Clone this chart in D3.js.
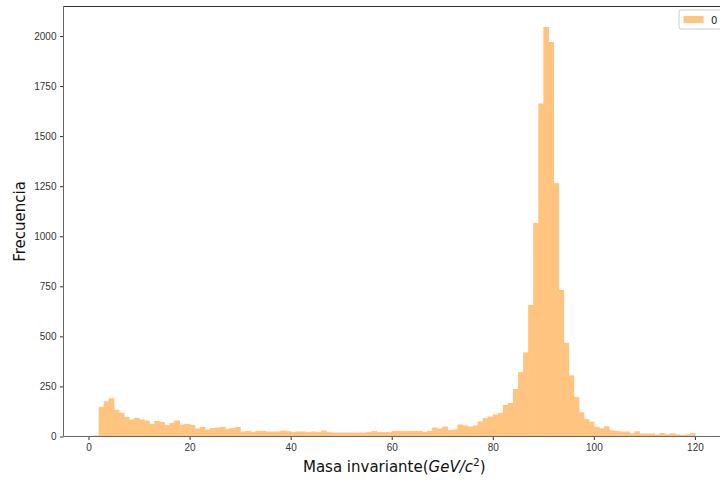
<!DOCTYPE html>
<html lang="en">
<head>
    <meta charset="UTF-8">
    <title></title>
    <style type="text/css">
        body { margin:0; background:#fff; }
        svg { display:block; font-family:'DejaVu Sans', sans-serif; }
        .tick text { font-size:10px; fill:#333; }
        .tick line { stroke:#333; }
    </style>
</head>
<body>
<script src="https://d3js.org/d3.v7.min.js"></script>
<script>
    // histogram counts, one per bin of width 1 starting at firstEdge
    var firstEdge = 1;
    var counts = [
        5, 148, 176, 191, 133, 118, 98, 85, 93, 85,
        80, 63, 78, 73, 58, 68, 80, 60, 63, 58,
        40, 48, 35, 42, 45, 48, 38, 43, 48, 25,
        28, 23, 28, 28, 25, 25, 25, 30, 27, 22,
        25, 25, 22, 25, 22, 30, 22, 20, 20, 20,
        20, 20, 20, 20, 22, 27, 22, 22, 22, 28,
        28, 28, 28, 28, 28, 23, 28, 45, 40, 50,
        32, 35, 60, 55, 50, 55, 75, 92, 100, 110,
        118, 158, 168, 237, 322, 420, 657, 1067, 1663, 2045,
        1970, 1265, 732, 468, 305, 197, 121, 87, 74, 49,
        41, 51, 31, 28, 25, 25, 16, 26, 15, 15,
        15, 10, 18, 11, 16, 11, 8, 11, 16
    ];
    var xTicks = [0, 20, 40, 60, 80, 100, 120];
    var yTicks = [0, 250, 500, 750, 1000, 1250, 1500, 1750, 2000];
    var legendLabels = ['0'];

    var width = 720,
        height = 481,
        pLeft = 63.5, pRight = 725, pTop = 6.5, pBottom = 436.5,
        svg = d3.select('body').append('svg')
                .attr('width', width)
                .attr('height', height);

    var bins = counts.map(function(c, i){
        return {x0: firstEdge + i, x1: firstEdge + i + 1, n: c};
    });

    var lo = bins[0].x0, hi = bins[bins.length - 1].x1,
        pad = (hi - lo) * 0.05;
    var xScale = d3.scaleLinear().domain([lo - pad, hi + pad]).range([pLeft, pRight]);
    var yScale = d3.scaleLinear().domain([0, d3.max(counts) * 1.05]).range([pBottom, pTop]);

    // bars slightly overlapped so no seams show between neighbours
    svg.append('g').selectAll('rect')
        .data(bins)
        .enter().append('rect')
        .attr('x', function(d){ return xScale(d.x0); })
        .attr('width', function(d){ return xScale(d.x1) - xScale(d.x0) + 0.6; })
        .attr('y', function(d){ return yScale(d.n); })
        .attr('height', function(d){ return yScale(0) - yScale(d.n); })
        .attr('fill', '#ffc47f');

    var xAxis = d3.axisBottom(xScale).tickValues(xTicks).tickFormat(d3.format('d'))
                  .tickSize(3.5).tickPadding(3.5);
    var yAxis = d3.axisLeft(yScale).tickValues(yTicks).tickFormat(d3.format('d'))
                  .tickSize(3.5).tickPadding(3.5);

    var gx = svg.append('g').attr('transform', 'translate(0,' + pBottom + ')').call(xAxis);
    var gy = svg.append('g').attr('transform', 'translate(' + pLeft + ',0)').call(yAxis);
    gx.select('.domain').remove();
    gy.select('.domain').remove();

    // spines
    svg.append('line').attr('x1', pLeft).attr('x2', pLeft).attr('y1', pTop).attr('y2', pBottom)
        .attr('stroke', '#666').attr('stroke-width', 1);
    svg.append('line').attr('x1', pLeft).attr('x2', pRight).attr('y1', pBottom).attr('y2', pBottom)
        .attr('stroke', '#666').attr('stroke-width', 1);
    svg.append('line').attr('x1', pLeft).attr('x2', pRight).attr('y1', pTop).attr('y2', pTop)
        .attr('stroke', '#333').attr('stroke-width', 1);

    // axis titles
    svg.append('text')
        .attr('transform', 'translate(25,' + ((pTop + pBottom) / 2) + ') rotate(-90)')
        .attr('text-anchor', 'middle')
        .attr('font-size', 15)
        .attr('fill', '#111')
        .text('Frecuencia');

    var xl = svg.append('text')
        .attr('x', (pLeft + pRight) / 2)
        .attr('y', 472)
        .attr('text-anchor', 'middle')
        .attr('font-size', 15)
        .attr('fill', '#111');
    xl.append('tspan').text('Masa invariante(');
    xl.append('tspan').attr('font-style', 'italic').text('GeV/c');
    xl.append('tspan').attr('font-size', 10.5).attr('dy', -6).text('2');
    xl.append('tspan').attr('dy', 6).text(')');

    // legend
    var lg = svg.append('g').attr('transform', 'translate(679,10)');
    lg.append('rect').attr('width', 50).attr('height', 19).attr('rx', 2)
        .attr('fill', '#fff').attr('stroke', '#ccc');
    lg.selectAll('.item').data(legendLabels).enter().append('g')
        .each(function(d){
            var g = d3.select(this);
            g.append('rect').attr('x', 4.5).attr('y', 6).attr('width', 20).attr('height', 7)
                .attr('fill', '#ffc47f');
            g.append('text').attr('x', 32).attr('y', 13.5).attr('font-size', 10)
                .attr('fill', '#222').text(d);
        });
</script>
</body>
</html>
